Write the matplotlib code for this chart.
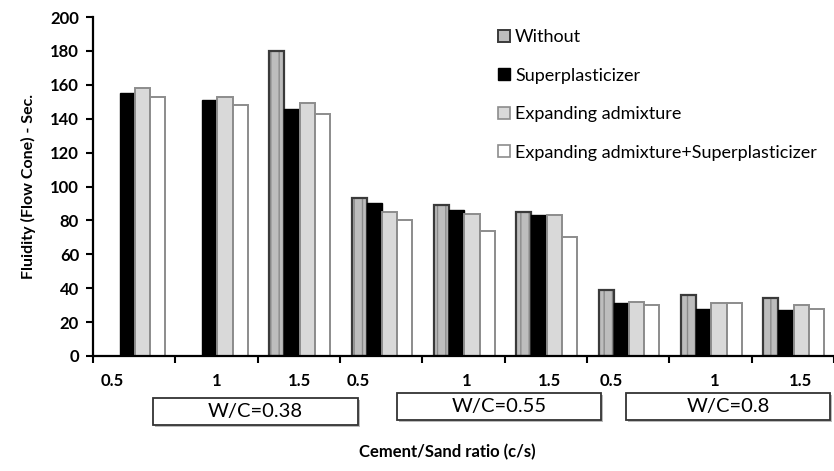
import numpy as np
import matplotlib
matplotlib.use("Agg")
import matplotlib.pyplot as plt
from matplotlib.patches import Patch, Rectangle

plt.rcParams['font.family'] = ['Lato', 'DejaVu Sans']

cs_labels = ["0.5", "1", "1.5", "0.5", "1", "1.5", "0.5", "1", "1.5"]
wc_labels = ["W/C=0.38", "W/C=0.55", "W/C=0.8"]
series_names = ["Without", "Superplasticizer", "Expanding admixture",
                "Expanding admixture+Superplasticizer"]
without = [np.nan, np.nan, 180, 93, 89, 85, 39, 36, 34]
superplasticizer = [155, 151, 146, 90, 86, 83, 31, 28, 27]
expanding = [158, 153, 149, 85, 84, 83, 32, 31, 30]
expanding_sp = [153, 148, 143, 80, 74, 70, 30, 31, 28]

W, H = 834, 471
fig = plt.figure(figsize=(W / 100, H / 100), dpi=100)
x0, x1, ytop, ybot = 93, 834, 17, 356
ax = fig.add_axes([x0 / W, 1 - ybot / H, (x1 - x0) / W, (ybot - ytop) / H])
grp_px = 83.3
ax.set_xlim(0, (x1 - x0) / grp_px)
ax.set_ylim(0, 200)

n = len(cs_labels)
xs = np.arange(n)
bw = 0.185
start = 0.14
# Without: hatched gray
ax.bar(xs + start + bw / 2, without, bw, color='#bdbdbd', edgecolor='#8a8a8a',
       hatch='||', linewidth=0)
ax.bar(xs + start + bw / 2, without, bw, fill=False, edgecolor='#3a3a3a', linewidth=1.6)
ax.bar(xs + start + 1.5 * bw, superplasticizer, bw, color='black', edgecolor='black', linewidth=1)
ax.bar(xs + start + 2.5 * bw, expanding, bw, color='#d9d9d9', edgecolor='#8c8c8c', linewidth=1.4)
ax.bar(xs + start + 3.5 * bw, expanding_sp, bw, color='white', edgecolor='#8c8c8c', linewidth=1.4)

for s in ['top', 'right']:
    ax.spines[s].set_visible(False)
for s in ['left', 'bottom']:
    ax.spines[s].set_linewidth(1.6)
ax.set_yticks(np.arange(0, 201, 20))
ax.tick_params(axis='y', direction='out', length=5, width=1.5, labelsize=12, pad=5)
for lab in ax.get_yticklabels():
    lab.set_fontweight('bold')
ax.set_xticks(np.arange(0, 10))
ax.set_xticklabels([])
ax.tick_params(axis='x', direction='out', length=5, width=1.5)

# c/s tick labels
offs = [0.23, 0.48, 0.48, 0.18, 0.48, 0.48, 0.22, 0.46, 0.49]
for i, lab in enumerate(cs_labels):
    fig.text((x0 + (i + offs[i]) * grp_px) / W, 1 - 381 / H, lab, ha='center', va='center',
             fontsize=12, fontweight='bold')

ax.set_ylabel("Fluidity (Flow Cone) - Sec.", fontsize=11.5, fontweight='bold', labelpad=10)

# W/C boxes
boxes = [(153, 358, 398, 425), (397, 601, 393, 420), (626, 830, 393, 420)]
for (bx0, bx1, by0, by1), lab in zip(boxes, wc_labels):
    fig.patches.append(Rectangle(((bx0 + 2) / W, 1 - (by1 + 2) / H), (bx1 - bx0) / W, (by1 - by0) / H,
                                 transform=fig.transFigure, facecolor='#bbbbbb', edgecolor='none'))
    fig.patches.append(Rectangle((bx0 / W, 1 - by1 / H), (bx1 - bx0) / W, (by1 - by0) / H,
                                 transform=fig.transFigure, facecolor='white', edgecolor='#333333',
                                 linewidth=1.3))
    fig.text((bx0 + bx1) / 2 / W, 1 - (by0 + by1) / 2 / H, lab, ha='center', va='center',
             fontsize=14.5)

fig.text(447 / W, 1 - 452 / H, "Cement/Sand ratio (c/s)", ha='center', va='center',
         fontsize=12, fontweight='bold')

handles = [
    Patch(facecolor='#bdbdbd', edgecolor='#3a3a3a', linewidth=1.4),
    Patch(facecolor='black', edgecolor='black'),
    Patch(facecolor='#d9d9d9', edgecolor='#8c8c8c', linewidth=1.2),
    Patch(facecolor='white', edgecolor='#8c8c8c', linewidth=1.2),
]
fig.legend(handles, series_names, loc='upper left', bbox_to_anchor=(498 / W, 1 - 29 / H),
           frameon=False, fontsize=13, labelspacing=1.25, handlelength=0.65,
           handleheight=0.65, handletextpad=0.3, borderaxespad=0, borderpad=0)

fig.savefig("out.png", dpi=100)
